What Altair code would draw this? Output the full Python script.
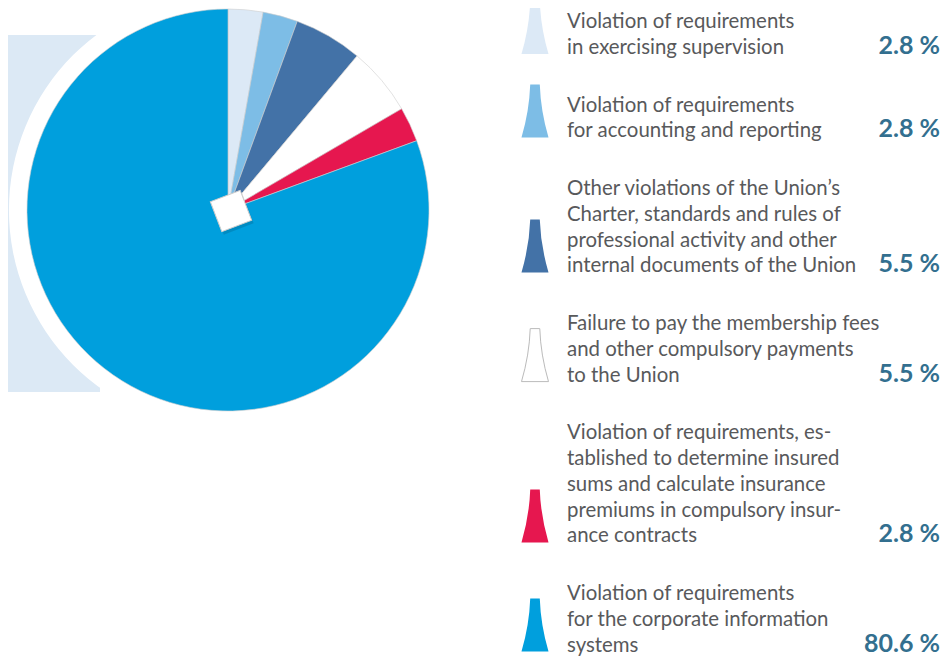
import math
import altair as alt
import pandas as pd

# ---- data ----
categories = [
    "supervision",
    "accounting",
    "charter",
    "fees",
    "insurance",
    "information systems",
]
label_lines = [
    ["Violation of requirements", "in exercising supervision"],
    ["Violation of requirements", "for accounting and reporting"],
    ["Other violations of the Union’s", "Charter, standards and rules of",
     "professional activity and other", "internal documents of the Union"],
    ["Failure to pay the membership fees", "and other compulsory payments",
     "to the Union"],
    ["Violation of requirements, es-", "tablished to determine insured",
     "sums and calculate insurance", "premiums in compulsory insur-",
     "ance contracts"],
    ["Violation of requirements", "for the corporate information", "systems"],
]
values = [2.8, 2.8, 5.5, 5.5, 2.8, 80.6]
colors = ["#DCE9F6", "#7DBDE6", "#4372A7", "#FFFFFF", "#E6174F", "#009FDD"]

# ---- layout ----
W, H = 932, 650
CX, CY, R = 220, 202, 201
LH, GAP, TOP = 25.8, 31.8, 46
ICON_X, TEXT_X, PCT_X = 527, 559, 932
ICON_H = 53
TWO_PI = 2 * math.pi

rows = []
cum = 0
for i, (c, lab, v) in enumerate(zip(categories, label_lines, values)):
    n = len(lab)
    if i > 0:
        cum += n
    last = TOP + LH * cum + GAP * i
    rows.append(dict(idx=i, cat=c, value=v, lines=lab,
                     ylast=last, yfirst=last - (n - 1) * LH,
                     yicon=last - ICON_H / 2, pct=f"{v:.1f} %"))
df = pd.DataFrame(rows)
one = pd.DataFrame({"a": [0]})

color_scale = alt.Scale(domain=categories, range=colors)

bg = alt.Chart(one).mark_rect(color="#DCE9F5").encode(
    x=alt.value(0), x2=alt.value(92), y=alt.value(27), y2=alt.value(384))


def disc(r, color, opacity, dx=0, dy=0):
    return alt.Chart(one).mark_arc(
        outerRadius=r, theta=0, theta2=TWO_PI, color=color,
        opacity=opacity).encode(x=alt.value(CX + dx), y=alt.value(CY + dy))


shadow = [disc(r, "#000000", op, -1, 4)
          for r, op in [(207, 0.03), (205, 0.05), (203, 0.07), (201, 0.1)]]
halo = disc(219, "#FFFFFF", 1)

pie = alt.Chart(df).mark_arc(outerRadius=R, stroke="#cfcfcf",
                             strokeWidth=0.6).encode(
    theta=alt.Theta("value:Q", stack=True),
    color=alt.Color("cat:N", scale=color_scale, legend=None),
    order=alt.Order("idx:Q"),
    x=alt.value(CX), y=alt.value(CY),
)

diamond_shadow = alt.Chart(one).mark_square(
    size=1024, angle=69, color="#000000", opacity=0.12, filled=True).encode(
    x=alt.value(CX + 5), y=alt.value(CY + 4))
diamond = alt.Chart(one).mark_square(
    size=1024, angle=69, color="#FFFFFF", opacity=1, filled=True,
    stroke="#cccccc", strokeWidth=1).encode(
    x=alt.value(CX + 3), y=alt.value(CY + 1))

icon_path = ("M -0.18 -1 L 0.18 -1 Q 0.215 0 0.51 1 L -0.51 1 "
             "Q -0.215 0 -0.18 -1 Z")
icons = alt.Chart(df).mark_point(shape=icon_path, size=ICON_H ** 2,
                                 filled=True, opacity=1).encode(
    x=alt.value(ICON_X),
    y=alt.Y("yicon:Q", scale=None),
    fill=alt.Fill("cat:N", scale=color_scale, legend=None),
    stroke=alt.value("#BBBBBB"),
    strokeWidth=alt.condition("datum.idx == 3", alt.value(1), alt.value(0)),
)

texts = alt.Chart(df).mark_text(
    align="left", baseline="alphabetic", font="Lato", fontSize=20.4,
    lineHeight=LH, color="#58595B").encode(
    x=alt.value(TEXT_X),
    y=alt.Y("yfirst:Q", scale=None),
    text=alt.Text("lines:N"),
)

pcts = alt.Chart(df).mark_text(
    align="right", baseline="alphabetic", font="Lato", fontSize=25,
    fontWeight="bold", color="#336F8F").encode(
    x=alt.value(PCT_X),
    y=alt.Y("ylast:Q", scale=None),
    text=alt.Text("pct:N"),
)

chart = alt.layer(bg, *shadow, halo, pie, diamond_shadow, diamond,
                  icons, texts, pcts).properties(
    width=W, height=H, padding=0, autosize="none"
).configure_view(strokeWidth=0)

chart.save("out.html", embed_options={"renderer": "svg", "actions": False})
